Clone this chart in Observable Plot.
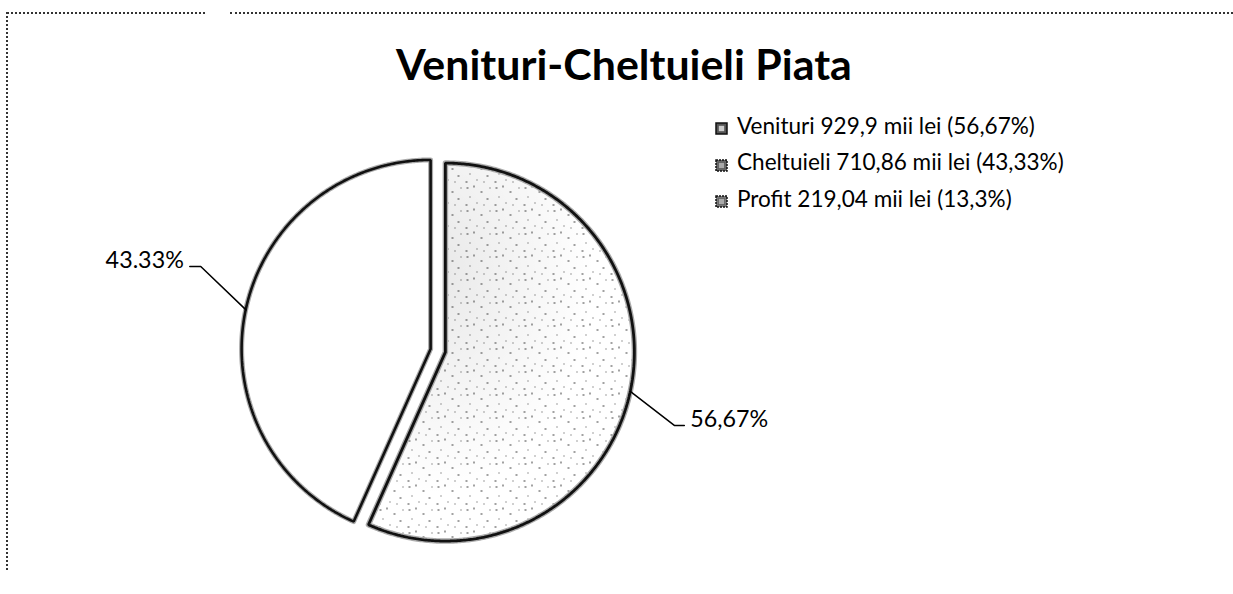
<!DOCTYPE html>
<html><head><meta charset="utf-8">
<script src="https://cdn.jsdelivr.net/npm/d3@7"></script>
<script src="https://cdn.jsdelivr.net/npm/@observablehq/plot@0.6"></script>
<style>
body{margin:0;background:#fff;}
#wrap{position:relative;width:1233px;height:594px;overflow:hidden;font-family:Lato,"Open Sans",sans-serif;color:#000;}
#wrap svg.plot{position:absolute;left:0;top:0;}
.title{position:absolute;white-space:nowrap;font-weight:700;}
.leg{position:absolute;white-space:nowrap;}
.frameTop{position:absolute;border-top:2px dotted #333;height:0;}
.frameLeft{position:absolute;border-left:2px dotted #333;width:0;}
</style></head><body><div id="wrap"></div>
<script>
// ---- data ----
const title = "Venituri-Cheltuieli Piata";
const categories = ["Venituri", "Cheltuieli"];
const percents = [56.67, 43.33];
const pieLabels = ["56,67%", "43.33%"];
const legendLabels = ["Venituri 929,9 mii lei (56,67%)", "Cheltuieli 710,86 mii lei (43,33%)", "Profit 219,04 mii lei (13,3%)"];
const legendShades = ["#555", "#666", "#777"];

// ---- layout ----
const W = 1233, H = 594;
const CX = 437.5, CY = 350, R = 189, explode = 0.04;
const FAMILY = "Lato";
const ctx = document.createElement("canvas").getContext("2d");
function fit(text, weight, target) {
  ctx.font = `${weight} 100px ${FAMILY}`;
  return 100 * target / ctx.measureText(text).width;
}
const wrap = document.getElementById("wrap");

// frame (dotted)
function addDiv(cls, st){const d=document.createElement("div");d.className=cls;Object.assign(d.style,st);wrap.appendChild(d);return d;}
addDiv("frameTop",{left:"7px",top:"12px",width:"198px"});
addDiv("frameTop",{left:"230px",top:"12px",width:"1003px"});
addDiv("frameLeft",{left:"6px",top:"12px",height:"558px"});

// title
const titleSize = fit(title, 700, 456);
const tdiv = addDiv("title", {fontSize: titleSize + "px", lineHeight: titleSize + "px",
  left: (624 - 228) + "px", top: (81 - 0.887 * titleSize) + "px"});
tdiv.textContent = title;

// legend
const legSize = fit(legendLabels[0], 400, 298);
legendLabels.forEach((txt, i) => {
  const base = 135 + i * 36.5;
  const row = addDiv("leg", {left: "737px", top: (base - 0.887 * legSize) + "px",
    fontSize: legSize + "px", lineHeight: legSize + "px"});
  row.textContent = txt;
  const sw = d3.create("svg").attr("width", 13).attr("height", 13)
    .style("position", "absolute").style("left", "715px").style("top", (base - 13) + "px");
  sw.append("rect").attr("x", 1).attr("y", 1).attr("width", 11).attr("height", 11)
    .attr("fill", legendShades[i]).attr("stroke", "#111").attr("stroke-width", 1.5)
    .attr("stroke-dasharray", i === 0 ? null : "2,1");
  sw.append("rect").attr("x", 3.5).attr("y", 3.5).attr("width", 6).attr("height", 6)
    .attr("fill", i === 0 ? "#ccc" : "#aaa").attr("stroke", "#333").attr("stroke-width", 0.8)
    .attr("stroke-dasharray", "1,1");
  wrap.appendChild(sw.node());
});

// pie geometry
const arcs = d3.pie().sort(null).value(d => d)(percents);
const slices = arcs.map((a, i) => {
  const mid = (a.startAngle + a.endAngle) / 2;
  const ox = explode * Math.sin(mid), oy = explode * Math.cos(mid);
  const pts = [{x: ox, y: oy}];
  const n = Math.ceil((a.endAngle - a.startAngle) / (Math.PI / 360));
  for (let k = 0; k <= n; k++) {
    const t = a.startAngle + (a.endAngle - a.startAngle) * k / n;
    pts.push({x: ox + Math.sin(t), y: oy + Math.cos(t)});
  }
  pts.push({x: ox, y: oy});
  const ax = ox + Math.sin(mid), ay = oy + Math.cos(mid);
  const right = Math.sin(mid) > 0;
  const ex = ax + (right ? 0.233 : -0.238), ey = ay + (right ? -0.18 : 0.228);
  const fx = ex + (right ? 0.053 : -0.058);
  return {cat: categories[i], label: pieLabels[i], pts, right,
    leader: [{x: ax, y: ay}, {x: ex, y: ey}, {x: fx, y: ey}], ex: fx, ey};
});

const labelSize = fit("56,67%", 400, 78);

function defsMark() {
  return () => {
    const g = d3.create("svg:g");
    const defs = g.append("defs");
    const p = defs.append("pattern").attr("id", "stipple").attr("patternUnits", "userSpaceOnUse")
      .attr("width", 29).attr("height", 23);
    p.append("rect").attr("width", 29).attr("height", 23).attr("fill", "#fff");
    [[2,3,2,1],[9,1,1,2],[16,7,2,1],[5,12,1,1],[22,14,2,1],[12,18,1,1],[1,20,2,1],[25,3,1,1],[19,20,1,1]].forEach(([x,y,w,h]) =>
      p.append("rect").attr("x", x).attr("y", y).attr("width", w).attr("height", h).attr("fill", "#444"));
    const gr = defs.append("radialGradient").attr("id", "shade").attr("cx", 0.25).attr("cy", 0.28).attr("r", 0.6);
    gr.append("stop").attr("offset", "0%").attr("stop-color", "#000").attr("stop-opacity", 0.09);
    gr.append("stop").attr("offset", "100%").attr("stop-color", "#000").attr("stop-opacity", 0.0);
    return g.node();
  };
}

const chart = Plot.plot({
  width: W, height: H,
  x: {domain: [-1, 1], range: [CX - R, CX + R]},
  y: {domain: [-1, 1], range: [CY + R, CY - R]},
  axis: null,
  marks: [
    defsMark(),
    Plot.line(slices[0].pts, {x: "x", y: "y", fill: "url(#stipple)", stroke: "none"}),
    Plot.line(slices[0].pts, {x: "x", y: "y", fill: "url(#shade)", stroke: "#aaa", strokeWidth: 5.5}),
    Plot.line(slices[0].pts, {x: "x", y: "y", stroke: "#111", strokeWidth: 2.8, strokeLinejoin: "miter"}),
    Plot.line(slices[1].pts, {x: "x", y: "y", fill: "#fff", stroke: "#aaa", strokeWidth: 5}),
    Plot.line(slices[1].pts, {x: "x", y: "y", stroke: "#111", strokeWidth: 2.6, strokeLinejoin: "miter"}),
    ...slices.map(s => Plot.line(s.leader, {x: "x", y: "y", stroke: "#000", strokeWidth: 1.5})),
    Plot.text(slices.filter(d => d.right), {x: "ex", y: "ey", text: "label", textAnchor: "start", dx: 6, dy: -6,
      fontSize: labelSize, fontFamily: FAMILY, fill: "#000"}),
    Plot.text(slices.filter(d => !d.right), {x: "ex", y: "ey", text: "label", textAnchor: "end", dx: -6, dy: -6,
      fontSize: labelSize, fontFamily: FAMILY, fill: "#000"}),
  ]
});
wrap.appendChild(chart);
</script>
</body></html>
